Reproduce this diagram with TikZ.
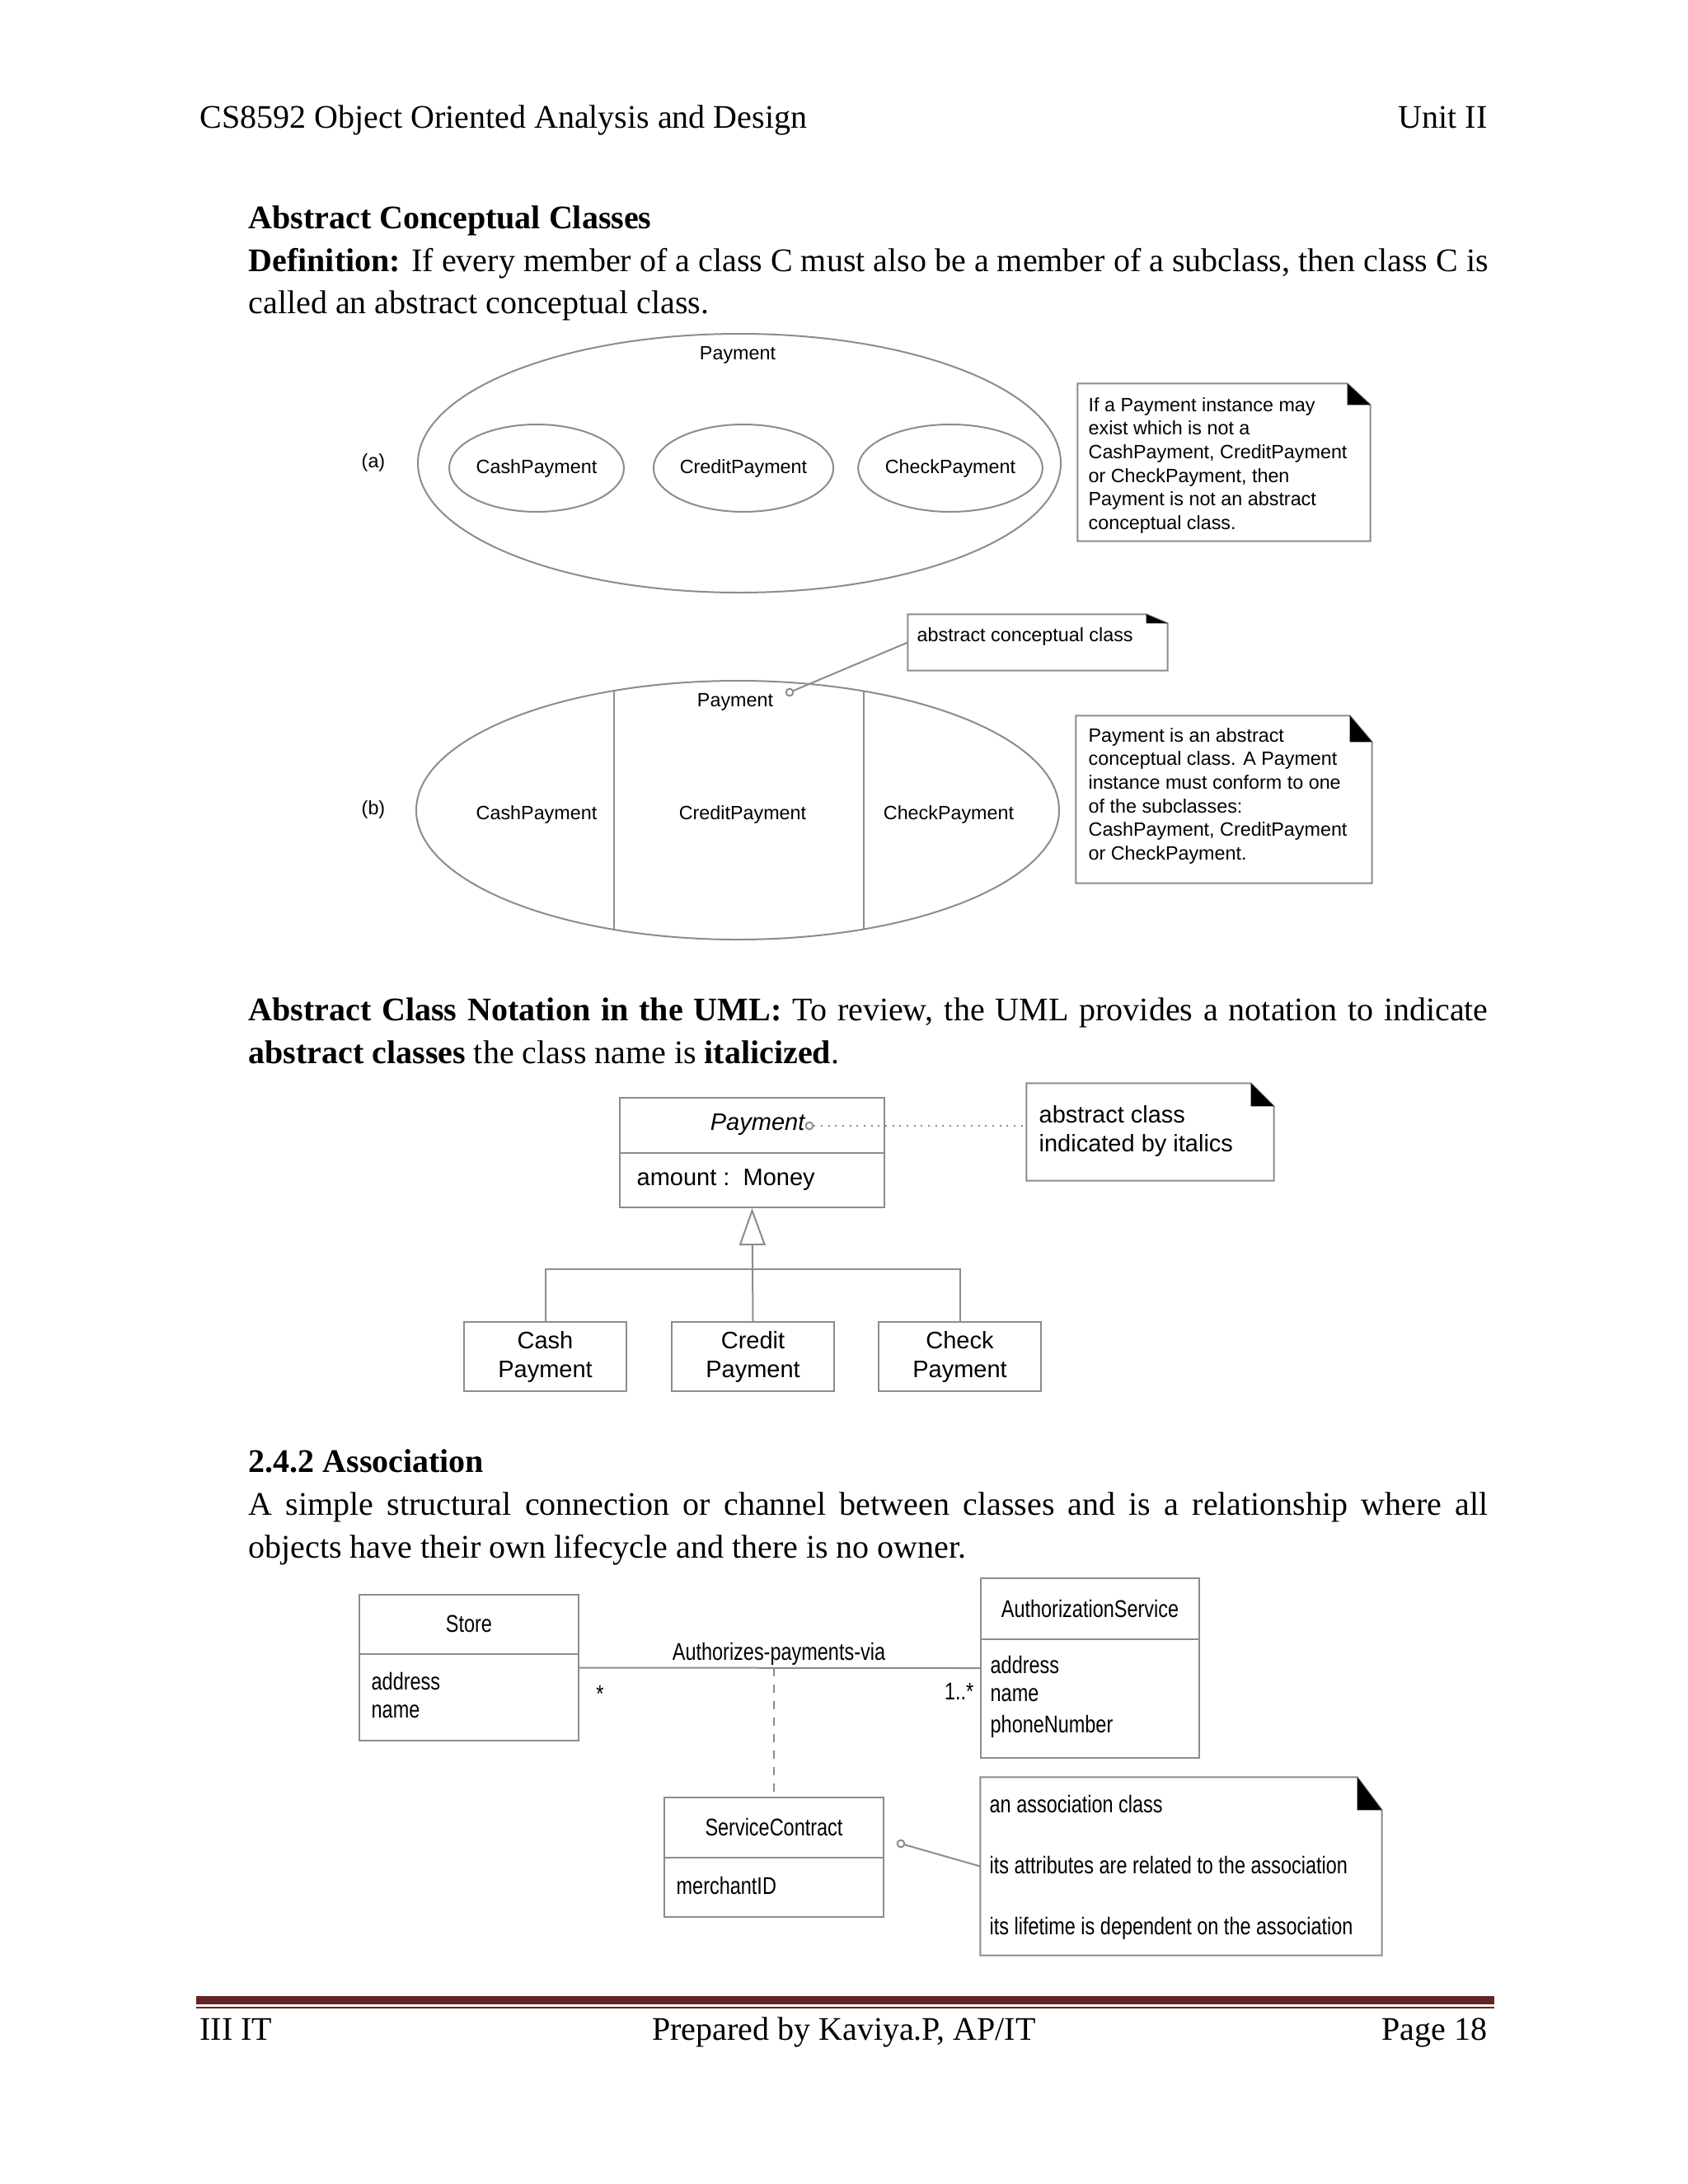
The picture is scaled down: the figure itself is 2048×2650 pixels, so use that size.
\documentclass[tikz,border=0pt]{standalone}
\usepackage{fontspec}
\setmainfont{Liberation Serif}
\newfontfamily\dgsans{Liberation Sans}
\newfontfamily\dgnarrow[FakeStretch=0.8]{Liberation Sans}
\usetikzlibrary{shapes.geometric,arrows.meta,fit,positioning}
\definecolor{footred}{RGB}{99,36,35}
\tikzset{ln/.style={draw=black!45,line width=0.6pt},
 body/.style={anchor=base west,inner sep=0pt,font=\fontsize{12}{15}\selectfont},
 lb/.style={inner sep=0pt,font=\dgsans\fontsize{7}{8.6}\selectfont},
 lbu/.style={inner sep=0pt,font=\dgsans\fontsize{8.7}{10.5}\selectfont},
 lbn/.style={inner sep=0pt,font=\dgnarrow\fontsize{8.8}{10}\selectfont},
 box/.style={ln,inner sep=0pt},
 oval/.style={ln,ellipse,inner sep=0pt},
 dot/.style={ln,circle,inner sep=0pt,minimum size=2.6pt,fill=white}}
\newcommand{\jline}[1]{\hbox to 451.2pt{#1}}
% note outline with folded corner: name, corner x, corner y
\newcommand{\dognote}[3]{\draw[ln] (#1.north west) -- ([xshift=-#2]#1.north east) -- ([yshift=-#3]#1.north east) -- (#1.south east) -- (#1.south west) -- cycle;
 \fill ([xshift=-#2]#1.north east) -- ([xshift=-#2,yshift=-#3]#1.north east) -- ([yshift=-#3]#1.north east) -- cycle;}

\begin{document}
\begin{tikzpicture}[x=0.3pt,y=-0.3pt]
\path[fill=white] (0,0) rectangle (2048,2650);\useasboundingbox (0,0) rectangle (2048,2650);
% header and text
\node[body] (hl) at (242,155) {CS8592 Object Oriented Analysis and Design};
\node[body,anchor=base east] (hr) at (1805,155) {Unit II};
\node[body] (t1) at (301,277) {\textbf{Abstract Conceptual Classes}};
\node[body] (t2) at (301,329) {\jline{\textbf{Definition:} If every member of a class C must also be a member of a subclass, then class C is}};
\node[body] (t3) at (301,380) {called an abstract conceptual class.};
% (a)
\node[lb] (la) at (453,561) {(a)};
\node[oval,minimum width=234pt,minimum height=94.2pt] (ea) at (897,562) {};
\node[lb] (pa) at (895,431) {Payment};
\node[oval,lb,minimum width=63.6pt,minimum height=31.8pt] (ea1) at (651,568) {CashPayment};
\node[oval,lb,minimum width=63.6pt,minimum height=31.8pt] (ea2) at (902,568) {CreditPayment};
\node[oval,lb,minimum width=63.6pt,minimum height=31.8pt] (ea3) at (1153,568) {CheckPayment};
\node[fit={(1308,466) (1662,656)},inner sep=0pt] (na) {};\dognote{na}{8.4pt}{7.8pt}
\foreach \t [count=\i from 0] in {If a  Payment instance may, exist which is not a, {CashPayment, CreditPayment}, {or CheckPayment, then}, Payment is not an abstract, conceptual class.}
 \node[lb,anchor=base west] (na\i) at (1320,{499+28.7*\i}) {\t};
% (b)
\node[fit={(1102,746) (1416,813)},inner sep=0pt] (nac) {};\dognote{nac}{7.8pt}{3.3pt}
\node[lb,anchor=base west] (nact) at (1112,778) {abstract conceptual class};
\node[lb] (lb) at (453,982) {(b)};
\node[oval,minimum width=234pt,minimum height=94.2pt] (eb) at (895,983) {};
\begin{scope}
\clip (eb.center) ellipse [x radius=117pt,y radius=47.1pt];
\draw[ln] (745,800) -- (745,1170) (1048,800) -- (1048,1170);
\end{scope}
\node[lb] (pb) at (892,852) {Payment};
\node[lb] (eb1) at (651,988) {CashPayment};
\node[lb] (eb2) at (901,988) {CreditPayment};
\node[lb] (eb3) at (1151,988) {CheckPayment};
\node[dot] (c1) at (958,840) {};
\draw[ln] (c1) -- (nac.west);
\node[fit={(1306,869) (1664,1071)},inner sep=0pt] (nb) {};\dognote{nb}{8.1pt}{9.6pt}
\foreach \t [count=\i from 0] in {Payment is an abstract, conceptual class. A Payment, instance must conform to one, of the subclasses:, {CashPayment, CreditPayment}, or CheckPayment.}
 \node[lb,anchor=base west] (nb\i) at (1320,{900+28.7*\i}) {\t};
% UML notation
\node[body] (t4) at (301,1238) {\jline{\textbf{Abstract Class Notation in the UML:} To review, the UML provides a notation to indicate}};
\node[body] (t5) at (301,1290) {\textbf{abstract classes} the class name is \textbf{italicized}.};
\node[box,fit={(752,1332) (1073,1465)}] (pc) {};
\node[fit={(752,1332) (1073,1398)},inner sep=0pt] (pcn) {};
\draw[ln] (pcn.south west) -- (pcn.south east);
\node[lbu,anchor=east] (pct) at (977,1365) {\itshape Payment};
\node[lbu,anchor=west] (pca) at (772,1432) {amount :\ \ Money};
\node[dot] (c2) at (982,1366) {};
\node[fit={(1246,1315) (1545,1432)},inner sep=0pt] (nu) {};\dognote{nu}{8.4pt}{8.4pt}
\node[lbu,anchor=base west] (nu1) at (1260,1362) {abstract class};
\node[lbu,anchor=base west] (nu2) at (1260,1397) {indicated by italics};
\draw[ln,dotted] (c2) -- (c2 -| nu.west);
\node[box,fit={(563,1604) (760,1688)}] (ca) {};
\node[box,fit={(815,1604) (1012,1688)}] (cr) {};
\node[box,fit={(1066,1604) (1263,1688)}] (ch) {};
\node[lbu,align=center] (cat) at (ca.center) {Cash\\Payment};
\node[lbu,align=center] (crt) at (cr.center) {Credit\\Payment};
\node[lbu,align=center] (cht) at (ch.center) {Check\\Payment};
\draw[ln,-{Triangle[open,length=13.5pt,width=9.6pt]}] (cr.north) -- (pc.south);
\draw[ln] (ca.north) -- ++(0,-63) -| (ch.north);
% association
\node[body] (t6) at (301,1786) {\textbf{2.4.2 Association}};
\node[body] (t7) at (301,1838) {\jline{A simple structural connection or channel between classes and is a relationship where all}};
\node[body] (t8) at (301,1890) {objects have their own lifecycle and there is no owner.};
\node[box,fit={(436,1935) (702,2112)}] (st) {};
\node[fit={(436,1935) (702,2006)},inner sep=0pt] (stn) {};
\draw[ln] (stn.south west) -- (stn.south east);
\node[lbn] (stt) at (stn.center) {Store};
\node[lbn,anchor=west] (st1) at (450,2040) {address};
\node[lbn,anchor=west] (st2) at (450,2077) {name};
\node[box,fit={(1190,1915) (1455,2133)}] (au) {};
\node[fit={(1190,1915) (1455,1988)},inner sep=0pt] (aun) {};
\draw[ln] (aun.south west) -- (aun.south east);
\node[lbn] (aut) at (aun.center) {AuthorizationService};
\node[lbn,anchor=west] (au1) at (1201,2020) {address};
\node[lbn,anchor=west] (au2) at (1201,2057) {name};
\node[lbn,anchor=west] (au3) at (1201,2095) {phoneNumber};
\draw[ln] (st.east) -- (au.west);
\node[lbn,anchor=base] (asl) at (945,2014) {Authorizes-payments-via};
\node[lbn] (m1) at (728,2055) {*};
\node[lbn,anchor=base east] (m2) at (1182,2062) {1..*};
\node[box,fit={(806,2181) (1072,2326)}] (sc) {};
\node[fit={(806,2181) (1072,2253)},inner sep=0pt] (scn) {};
\draw[ln] (scn.south west) -- (scn.south east);
\node[lbn] (sct) at (scn.center) {ServiceContract};
\node[lbn,anchor=west] (sc1) at (820,2288) {merchantID};
\draw[ln,dashed] (sc.north |- st.east) -- (sc.north);
\node[fit={(1190,2157) (1676,2372)},inner sep=0pt] (ns) {};\dognote{ns}{9pt}{12pt}
\node[lbn,anchor=base west] (ns1) at (1200,2199) {an association class};
\node[lbn,anchor=base west] (ns2) at (1200,2273) {its attributes are related to the association};
\node[lbn,anchor=base west] (ns3) at (1200,2347) {its lifetime is dependent on the association};
\node[dot] (c3) at (1093,2237) {};
\draw[ln] (c3) -- (ns.west);
% footer
\draw[footred,line width=3pt] (238,2427) -- (1813,2427);
\draw[footred,line width=0.75pt] (238,2436) -- (1813,2436);
\node[body] (fl) at (242,2475) {III IT};
\node[body,anchor=base] (fc) at (1024,2475) {Prepared by Kaviya.P, AP/IT};
\node[body,anchor=base east] (fr) at (1805,2475) {Page 18};
\end{tikzpicture}
\end{document}
